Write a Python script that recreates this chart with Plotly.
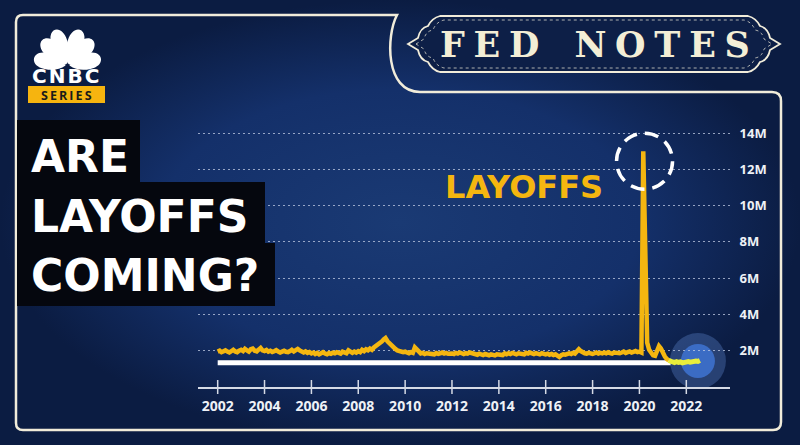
import math
import pandas as pd
import plotly.graph_objects as go

W, H = 800, 445

# ---------------- data ----------------
series_start = "2002-01-01"
layoffs_2002 = [1.95, 2.00, 1.92, 1.98, 2.02, 1.95, 1.90, 1.97, 2.05, 1.96, 1.92, 2.00]
layoffs_2003 = [2.05, 1.98, 2.10, 2.02, 1.95, 2.08, 2.12, 2.00, 1.96, 2.06, 2.15, 2.02]
layoffs_2004 = [1.98, 2.04, 1.95, 2.00, 1.93, 1.97, 2.03, 1.96, 1.90, 1.95, 2.00, 1.94]
layoffs_2005 = [1.92, 1.98, 2.05, 1.96, 2.00, 2.10, 2.02, 1.95, 1.90, 1.96, 1.88, 1.93]
layoffs_2006 = [1.85, 1.90, 1.82, 1.88, 1.80, 1.86, 1.92, 1.84, 1.80, 1.87, 1.83, 1.89]
layoffs_2007 = [1.86, 1.92, 1.88, 1.84, 1.95, 1.90, 1.86, 2.02, 1.92, 1.88, 1.95, 1.90]
layoffs_2008 = [1.98, 1.92, 2.05, 1.98, 2.08, 2.02, 2.12, 2.05, 2.18, 2.25, 2.35, 2.42]
layoffs_2009 = [2.50, 2.62, 2.70, 2.52, 2.40, 2.30, 2.20, 2.10, 2.02, 1.98, 1.95, 1.92]
layoffs_2010 = [1.95, 1.90, 1.86, 1.92, 1.88, 2.18, 2.05, 1.90, 1.85, 1.88, 1.82, 1.86]
layoffs_2011 = [1.84, 1.88, 1.85, 1.80, 1.87, 1.83, 1.86, 1.90, 1.84, 1.88, 1.83, 1.86]
layoffs_2012 = [1.85, 1.82, 1.88, 1.84, 1.90, 1.86, 1.82, 1.87, 1.84, 1.90, 1.86, 1.80]
layoffs_2013 = [1.82, 1.78, 1.84, 1.80, 1.76, 1.82, 1.78, 1.75, 1.80, 1.77, 1.74, 1.80]
layoffs_2014 = [1.78, 1.82, 1.76, 1.85, 1.80, 1.86, 1.82, 1.88, 1.84, 1.80, 1.86, 1.83]
layoffs_2015 = [1.85, 1.80, 1.88, 1.84, 1.90, 1.86, 1.82, 1.87, 1.84, 1.80, 1.86, 1.82]
layoffs_2016 = [1.80, 1.84, 1.78, 1.82, 1.76, 1.80, 1.72, 1.66, 1.75, 1.80, 1.78, 1.82]
layoffs_2017 = [1.85, 1.82, 1.88, 1.84, 1.95, 2.08, 1.98, 1.90, 1.86, 1.84, 1.88, 1.85]
layoffs_2018 = [1.82, 1.86, 1.90, 1.84, 1.88, 1.85, 1.90, 1.86, 1.92, 1.87, 1.84, 1.90]
layoffs_2019 = [1.88, 1.92, 1.86, 1.90, 1.95, 1.88, 1.92, 1.96, 1.90, 1.94, 1.98, 1.92]
layoffs_2020 = [1.95, 1.90, 13.00, 7.60, 2.45, 2.05, 1.85, 1.75, 1.72, 1.92, 2.25, 2.12]
layoffs_2021 = [1.82, 1.68, 1.55, 1.47, 1.40, 1.38, 1.35, 1.40, 1.36, 1.38, 1.33, 1.37]
layoffs_2022 = [1.35, 1.40, 1.37, 1.40, 1.36, 1.43, 1.41, 1.46]

recent_from = "2021-04-01"          # where the highlighted (recent) segment starts

ref_level = 1.33                    # white "current level" bar
ref_start, ref_end = "2002-01-01", "2021-05-01"

highlight_date, highlight_level = "2022-07-01", 1.43

tick_years = [2002, 2004, 2006, 2008, 2010, 2012, 2014, 2016, 2018, 2020, 2022]
y_ticks = [2, 4, 6, 8, 10, 12, 14]
y_labels = ["2M", "4M", "6M", "8M", "10M", "12M", "14M"]

# ---------------- build ----------------
values = (layoffs_2002 + layoffs_2003 + layoffs_2004 + layoffs_2005 + layoffs_2006 +
          layoffs_2007 + layoffs_2008 + layoffs_2009 + layoffs_2010 + layoffs_2011 +
          layoffs_2012 + layoffs_2013 + layoffs_2014 + layoffs_2015 + layoffs_2016 +
          layoffs_2017 + layoffs_2018 + layoffs_2019 + layoffs_2020 + layoffs_2021 +
          layoffs_2022)
dates = pd.date_range(series_start, periods=len(values), freq="MS")
df = pd.DataFrame({"date": dates, "v": values})
old = df[df.date <= recent_from]
new = df[df.date >= recent_from]
peak = df.loc[df.v.idxmax()]

GOLD = "#f4b610"
LEMON = "#e9ee3b"
CREAM = "#f1ecda"
NAVY_DARK = "#0d1f47"

fig = go.Figure()

# background (decor axes x/y in pixel units)
fig.add_trace(go.Scatter(x=[0, W, W, 0, 0], y=[0, 0, H, H, 0], fill="toself", mode="none",
                         fillgradient=dict(type="radial",
                                           colorscale=[[0, "#1a3a74"], [0.6, "#14306a"], [1, "#0b1c42"]]),
                         hoverinfo="skip", xaxis="x", yaxis="y"))

# chart traces (x2/y2)
fig.add_trace(go.Scatter(x=[ref_start, ref_end], y=[ref_level, ref_level], mode="lines",
                         line=dict(color="white", width=5), hoverinfo="skip",
                         xaxis="x2", yaxis="y2"))
fig.add_trace(go.Scatter(x=old.date, y=old.v, mode="lines",
                         line=dict(color=GOLD, width=4.5), hoverinfo="skip",
                         xaxis="x2", yaxis="y2"))
fig.add_trace(go.Scatter(x=new.date, y=new.v, mode="lines",
                         line=dict(color=LEMON, width=5), hoverinfo="skip",
                         xaxis="x2", yaxis="y2"))
tick_dates = [f"{y}-01-01" for y in tick_years]
fig.add_trace(go.Scatter(x=tick_dates, y=[0] * len(tick_dates), mode="markers",
                         marker=dict(symbol="line-ns", size=10,
                                     line=dict(color="#d5dae5", width=1.5)),
                         cliponaxis=False, hoverinfo="skip", xaxis="x2", yaxis="y2"))

# highlight circles (below grid)
for r, col in [(28, "rgba(95,135,205,0.35)"), (17, "#3b6cc4")]:
    fig.add_shape(type="circle", xref="x2", yref="y2", layer="below",
                  xsizemode="pixel", ysizemode="pixel",
                  xanchor=highlight_date, yanchor=highlight_level,
                  x0=-r, x1=r, y0=-r, y1=r, fillcolor=col, line=dict(width=0))

# dashed circle around the peak
peak_center = (peak.date + pd.Timedelta(days=20)).strftime("%Y-%m-%d")
fig.add_shape(type="circle", xref="x2", yref="y2", layer="above",
              xsizemode="pixel", ysizemode="pixel",
              xanchor=peak_center, yanchor=float(peak.v) - 0.55,
              x0=-28, x1=28, y0=-28, y1=28,
              line=dict(color="white", width=3.5, dash="14px,8px"))

# ---------------- decorations (pixel coordinates) ----------------
def dshape(**kw):
    fig.add_shape(xref="x", yref="y", layer="above", **kw)

# frame
dshape(type="path",
       path=("M 16,423 L 16,22 Q 16,15 23,15 L 397,15 C 386,36 385,92 420,92 "
             "L 772,92 Q 781,92 781,101 L 781,422 Q 781,430 773,430 L 23,430 Q 16,430 16,423 Z"),
       line=dict(color=CREAM, width=2.5))

# badge
dshape(type="path",
       path=("M 408,44 L 418,38 Q 420,28 428,26 Q 432,18 440,16 L 748,16 Q 756,18 760,26 "
             "Q 768,28 770,38 L 780,44 L 770,50 Q 768,60 760,62 Q 756,70 748,72 L 440,72 "
             "Q 432,70 428,62 Q 420,60 418,50 Z"),
       fillcolor=NAVY_DARK, line=dict(color=CREAM, width=1.8))
dshape(type="path",
       path=("M 416,44 L 424,39 Q 426,31 433,30 Q 436,22 444,20 L 744,20 Q 752,22 755,30 "
             "Q 762,31 764,39 L 772,44 L 764,49 Q 762,57 755,58 Q 752,66 744,68 L 444,68 "
             "Q 436,66 433,58 Q 426,57 424,49 Z"),
       line=dict(color="rgba(241,236,218,0.7)", width=1, dash="dot"))

# title boxes
for x0, y0, x1, y1 in [(17, 120, 140, 183), (17, 182, 265, 244), (17, 243, 275, 306)]:
    dshape(type="rect", x0=x0, y0=y0, x1=x1, y1=y1, fillcolor="#05070e", line=dict(width=0))

# SERIES box
dshape(type="rect", x0=28, y0=86, x1=105, y1=103, fillcolor="#f6b40f", line=dict(width=0))

# peacock feathers
def petal(bx, by, ang, L, wd):
    a = math.radians(ang)
    ux, uy = math.cos(a), -math.sin(a)
    nx, ny = -uy, ux
    def p(s, t):
        return f"{bx + s * ux + t * nx:.2f},{by + s * uy + t * ny:.2f}"
    return (f"M {p(2, 0)} C {p(0.2 * L, 0.35 * wd)} {p(0.4 * L, 0.5 * wd)} {p(0.62 * L, 0.5 * wd)} "
            f"C {p(1.1 * L, 0.55 * wd)} {p(1.1 * L, -0.55 * wd)} {p(0.62 * L, -0.5 * wd)} "
            f"C {p(0.4 * L, -0.5 * wd)} {p(0.2 * L, -0.35 * wd)} {p(2, 0)} Z")

for ang, L in [(167, 35), (134, 37), (109, 39), (71, 39), (46, 37), (13, 35)]:
    dshape(type="path", path=petal(67.5, 66, ang, L, 16), fillcolor="white", line=dict(width=0))

# ---------------- annotations ----------------
def note(text, x, y, size, color, family, xanchor="center"):
    fig.add_annotation(text=text, x=x, y=y, xref="x", yref="y", showarrow=False,
                       xanchor=xanchor, yanchor="middle",
                       font=dict(size=size, color=color, family=family))

note("<b>C\u200aN\u200aB\u200aC</b>", 65.5, 75.5, 20, "white", "DejaVu Sans")
note("<b>S\u2009E\u2009R\u2009I\u2009E\u2009S</b>", 66.5, 95, 12.5, "#1a1a1a", "Open Sans")
note("<b>F\u2005E\u2005D\u2002\u2002N\u2005O\u2005T\u2005E\u2005S</b>", 595, 44.5, 35, "#f3eed6", "DejaVu Serif")
note("<b>ARE</b>", 29, 156, 44, "white", "DejaVu Sans", "left")
note("<b>LAYOFFS</b>", 29, 216, 44, "white", "DejaVu Sans", "left")
note("<b>COMING?</b>", 29, 275, 44, "white", "DejaVu Sans", "left")
note("<b>LAYOFFS</b>", 524, 187, 32, GOLD, "DejaVu Sans")

# ---------------- layout ----------------
fig.update_layout(
    width=W, height=H, margin=dict(l=0, r=0, t=0, b=0),
    paper_bgcolor="#13295c", plot_bgcolor="rgba(0,0,0,0)", showlegend=False,
    xaxis=dict(domain=[0, 1], range=[0, W], visible=False, fixedrange=True, anchor="y"),
    yaxis=dict(domain=[0, 1], range=[H, 0], visible=False, fixedrange=True, anchor="x"),
    xaxis2=dict(domain=[198 / W, 730 / W], anchor="y2", type="date",
                range=["2001-02-28", "2023-11-13"],
                tickvals=tick_dates, ticktext=[str(y) for y in tick_years],
                ticks="outside", ticklen=5, tickcolor="rgba(0,0,0,0)",
                showline=True, linecolor="#d5dae5", linewidth=1.5,
                showgrid=False, zeroline=False,
                tickfont=dict(family="Open Sans", size=14, color="#eef1f6", weight="bold")),
    yaxis2=dict(domain=[1 - 387 / H, 1 - 120 / H], anchor="x2", side="right",
                range=[0, (387 - 120) / 18.14],
                tickvals=y_ticks, ticktext=y_labels,
                ticks="outside", ticklen=6, tickcolor="rgba(0,0,0,0)",
                showgrid=True, gridcolor="rgba(195,206,230,0.75)", gridwidth=1.4,
                griddash="2px,3px", zeroline=False, showline=False,
                tickfont=dict(family="Open Sans", size=13, color="#eef1f6", weight="bold")),
)

fig.write_html("out.html", config={"displayModeBar": False},
               post_script="document.body.style.margin='0';document.body.style.overflow='hidden';")
